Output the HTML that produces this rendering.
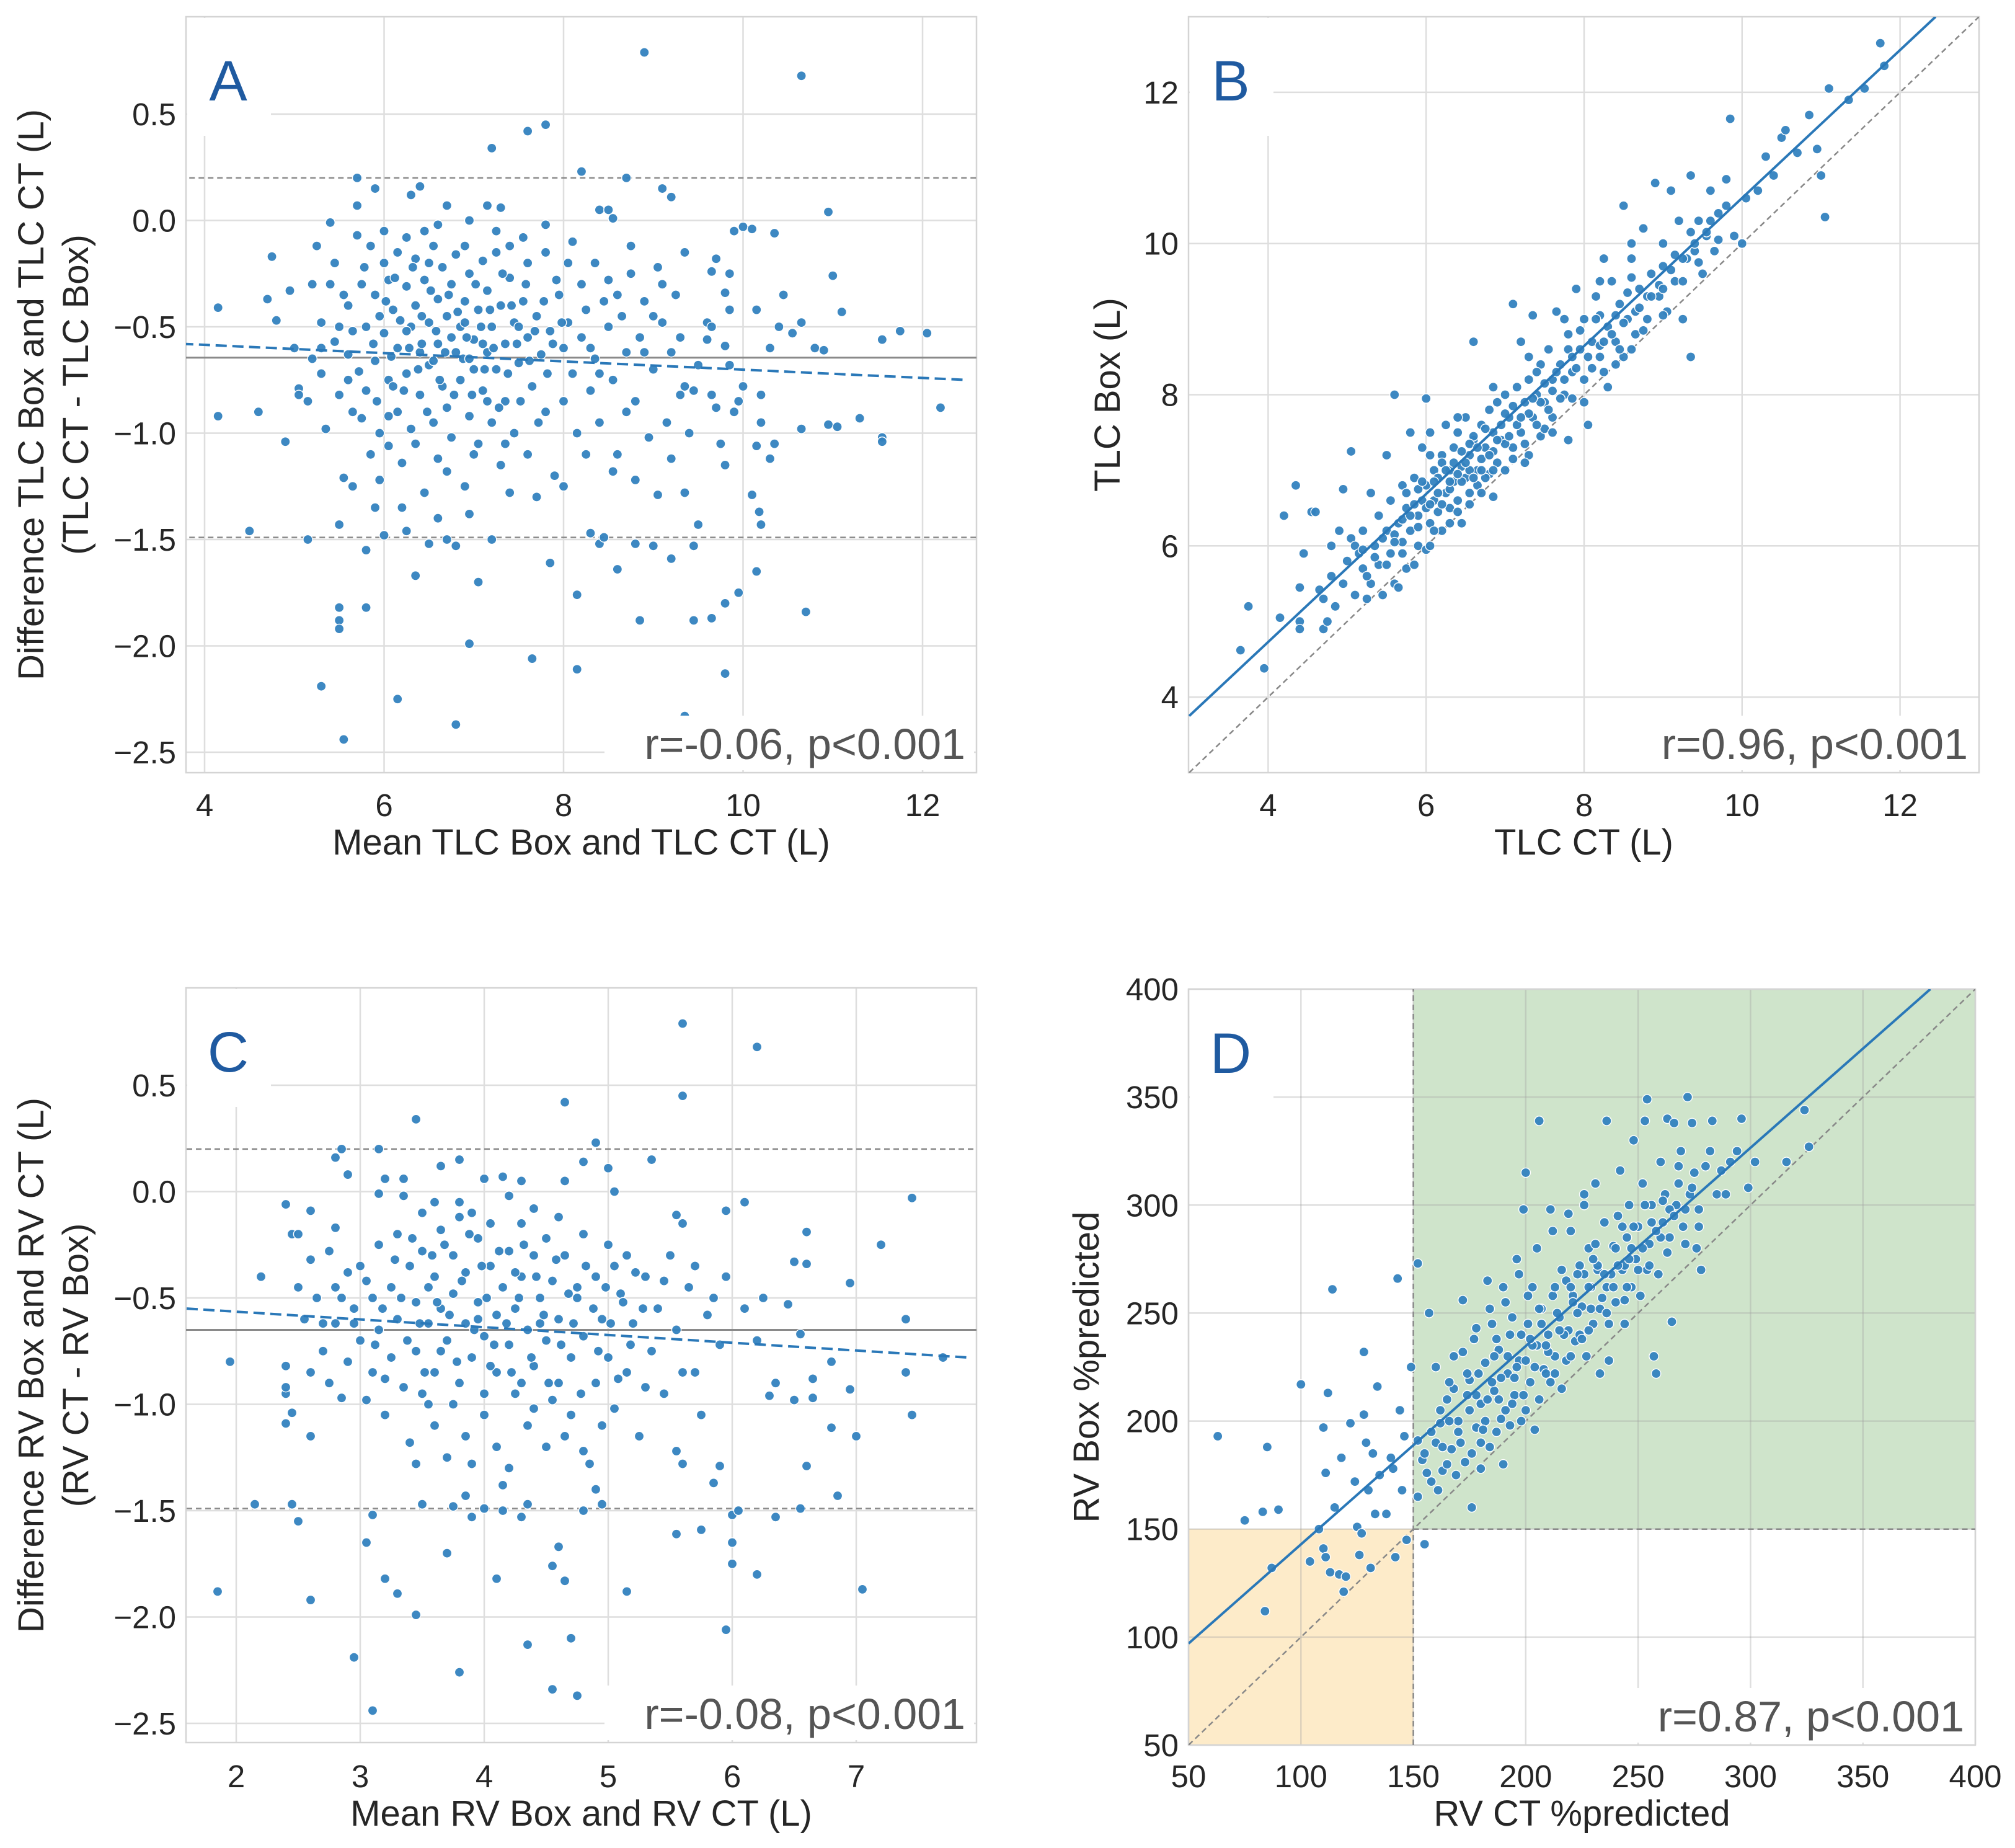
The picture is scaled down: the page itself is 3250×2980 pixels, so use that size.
<!DOCTYPE html>
<html><head><meta charset="utf-8">
<style>
html,body{margin:0;padding:0;background:#fff;}
svg{display:block;font-family:"Liberation Sans",sans-serif;}
</style></head>
<body>
<svg id="fig" width="3250" height="2980" viewBox="0 0 3250 2980" xmlns="http://www.w3.org/2000/svg"></svg>
<script>
// ---------- DATA ----------
const aXTicks=[4,6,8,10,12];
const aYTicks=[0.5,0.0,-0.5,-1.0,-1.5,-2.0,-2.5];
const aLoA=[0.2,-1.49];
const aMean=[-0.645];
const aReg=[[3.75,-0.58],[12.5,-0.75]];
const aPoints=[
[8.9,0.79],[10.65,0.68],[7.6,0.42],[7.8,0.45],[7.2,0.34],[8.2,0.23],[8.7,0.2],[5.7,0.2],[5.9,0.15],[6.3,0.12],[6.4,0.16],[9.1,0.15],[9.2,0.11],[10.95,0.04],[7.3,0.06],[7.15,0.07],[6.7,0.07],[5.7,0.07],[6.95,0.0],[8.4,0.05],[8.5,0.05],[8.55,0.01],[10.0,-0.03],[10.1,-0.04],[10.35,-0.06],[9.9,-0.05],[11.0,-0.26],[11.1,-0.43],[10.45,-0.35],[11.75,-0.52],[11.55,-0.56],[12.05,-0.53],[12.2,-0.88],[11.3,-0.93],[10.95,-0.96],[11.05,-0.97],[11.55,-1.02],[11.55,-1.04],[10.65,-0.98],[10.7,-1.84],[10.15,-1.65],[10.2,-1.43],[10.18,-1.37],[10.1,-1.29],[9.95,-1.75],[9.8,-1.8],[9.65,-1.87],[9.45,-1.88],[9.8,-2.13],[9.35,-2.33],[8.85,-1.88],[8.15,-1.76],[8.15,-2.11],[7.65,-2.06],[6.95,-1.99],[7.05,-1.7],[6.8,-2.37],[6.15,-2.25],[5.55,-2.44],[5.3,-2.19],[5.5,-1.82],[5.5,-1.88],[5.5,-1.92],[5.8,-1.82],[6.35,-1.67],[5.8,-1.55],[4.5,-1.46],[5.15,-1.5],[4.15,-0.92],[4.6,-0.9],[4.15,-0.41],[4.9,-1.04],[4.75,-0.17],[4.7,-0.37],[7.85,-1.61],[8.6,-1.64],[9.5,-1.43],[9.2,-1.59],[9.0,-1.53],[9.45,-1.53],[8.8,-1.52],[8.4,-1.52],[8.3,-1.47],[8.45,-1.49],[7.2,-1.5],[6.7,-1.5],[6.8,-1.53],[6.5,-1.52],[6.25,-1.46],[6.0,-1.48],[5.5,-1.43],[9.05,-1.29],[9.35,-1.28],[9.4,-1.0],[9.8,-1.15],[10.15,-1.06],[10.35,-1.05],[10.2,-0.95],[10.3,-1.12],[9.75,-1.05],[10.3,-0.6],[10.2,-0.82],[10.0,-0.78],[9.65,-0.82],[9.7,-0.88],[9.9,-0.9],[9.95,-0.85],[10.55,-0.53],[10.65,-0.48],[10.8,-0.6],[10.9,-0.61],[10.4,-0.5],[10.15,-0.42],[9.85,-0.42],[9.8,-0.34],[9.85,-0.25],[9.65,-0.24],[9.7,-0.18],[9.6,-0.48],[9.65,-0.5],[9.6,-0.56],[9.8,-0.59],[9.85,-0.68],[9.5,-0.68],[9.45,-0.8],[9.35,-0.78],
[4.8,-0.47],[4.95,-0.33],[5.0,-0.6],[5.05,-0.79],[5.05,-0.82],[5.2,-0.3],[5.25,-0.12],[5.3,-0.48],[5.3,-0.72],[5.35,-0.98],[5.4,-0.01],[5.45,-0.2],[5.45,-0.57],[5.5,-0.82],[5.55,-1.21],[5.6,-0.4],[5.6,-0.63],[5.65,-1.25],[5.7,-0.07],[5.75,-0.3],[5.75,-0.93],[5.8,-0.5],[5.8,-0.8],[5.85,-0.12],[5.9,-0.35],[5.9,-0.66],[5.95,-1.0],[5.95,-1.22],[6.0,-0.2],[6.0,-0.53],[6.05,-0.75],[6.05,-1.06],[6.1,-0.42],[6.15,-0.15],[6.15,-0.6],[6.15,-0.9],[6.2,-1.14],[6.25,-0.31],[6.25,-0.72],[6.3,-0.5],[6.3,-0.98],[6.35,-0.18],[6.35,-0.4],[6.4,-0.62],[6.4,-0.82],[6.45,-1.28],[6.45,-0.28],[6.5,-0.48],[6.5,-0.68],[6.55,-0.95],[6.55,-0.12],[6.6,-0.37],[6.6,-0.58],[6.6,-1.12],[6.65,-0.22],[6.65,-0.78],[6.7,-0.45],[6.7,-0.88],[6.75,-0.3],[6.75,-1.02],[6.8,-0.62],[6.8,-0.16],[6.85,-0.5],[6.85,-0.75],[6.9,-0.38],[6.9,-1.25],[6.95,-0.25],[6.95,-0.92],[7.0,-0.56],[7.0,-0.7],[7.05,-0.42],[7.05,-1.05],[7.1,-0.19],[7.1,-0.8],[7.15,-0.62],[7.15,-0.33],[7.2,-0.5],[7.2,-0.95],[7.25,-0.15],[7.25,-0.7],[7.3,-1.15],[7.3,-0.4],[7.35,-0.58],[7.35,-0.85],[7.4,-0.27],[7.45,-0.48],[7.45,-1.0],[7.5,-0.67],[7.55,-0.38],[7.6,-0.2],[7.6,-0.55],[7.6,-1.1],[7.65,-0.78],[7.7,-0.45],[7.75,-0.63],[7.8,-0.15],[7.8,-0.9],[7.85,-0.52],[7.9,-1.2],[7.95,-0.35],[8.0,-0.6],[8.0,-0.85],[8.05,-0.48],[8.1,-0.72],[8.15,-1.0],[8.2,-0.3],[8.2,-0.55],[8.25,-0.42],[8.3,-0.8],[8.35,-0.2],[8.35,-0.65],[8.4,-0.95],[8.45,-0.38],[8.5,-0.5],[8.5,-0.28],[8.55,-0.75],[8.6,-1.1],[8.65,-0.45],[8.7,-0.62],[8.75,-0.25],[8.8,-0.85],[8.85,-0.55],[8.9,-0.38],[9.0,-0.7],[9.05,-0.22],[9.1,-0.48],[9.15,-0.95],[9.2,-0.62],[9.25,-0.35],[9.3,-0.82],[7.4,-1.28],[6.2,-1.35],[6.6,-1.4],[8.0,-1.25],[8.8,-1.22],[5.3,-0.6],[6.05,-0.28],[6.45,-0.05],[7.55,-0.08],[8.1,-0.1],[6.9,-0.48],[6.25,-0.52],[7.1,-0.58],[6.55,-0.66],[5.95,-0.45],[6.75,-0.55],
[5.55,-0.35],[5.65,-0.52],[5.72,-0.71],[5.78,-0.22],[5.88,-0.58],[5.92,-0.85],[6.02,-0.38],[6.08,-0.64],[6.12,-0.27],[6.18,-0.47],[6.22,-0.8],[6.28,-0.6],[6.32,-0.22],[6.38,-0.7],[6.42,-0.45],[6.48,-0.9],[6.52,-0.33],[6.58,-0.52],[6.62,-0.75],[6.68,-0.62],[6.72,-0.35],[6.78,-0.82],[6.82,-0.43],[6.88,-0.65],[6.92,-0.55],[6.98,-0.82],[7.02,-0.3],[7.08,-0.5],[7.12,-0.7],[7.18,-0.42],[7.22,-0.6],[7.28,-0.88],[7.32,-0.25],[7.38,-0.72],[7.42,-0.4],[7.48,-0.58],[7.52,-0.85],[7.58,-0.3],[7.62,-0.66],[7.68,-0.52],[7.72,-0.95],[7.78,-0.38],[7.82,-0.72],[7.88,-0.58],[7.92,-0.28],[7.98,-0.48],[6.05,-0.92],[6.35,-1.05],[6.7,-1.18],[7.0,-1.1],[7.35,-1.05],[5.85,-1.1],[6.5,-0.2],[6.9,-0.12],[7.25,-0.05],[5.65,-0.9],[6.1,-0.78],[6.42,-0.58],[6.95,-0.65],[7.15,-0.85],[7.5,-0.5],[8.3,-0.6],[8.6,-0.35],[8.9,-0.62],[9.1,-0.3],[9.3,-0.55],[8.7,-0.9],[8.4,-0.72],[9.0,-0.45],[5.4,-0.3],[5.6,-0.75],[5.5,-0.5],[5.2,-0.65],[5.15,-0.85],[6.25,-0.08],[6.0,-0.05],[6.6,-0.02],[7.4,-0.12],[5.9,-1.35],[6.95,-1.38],[7.7,-1.3],[8.25,-1.1],[8.55,-1.18],[8.95,-1.02],[9.2,-1.12],[7.8,-0.02],[8.05,-0.2],[8.75,-0.12],[9.35,-0.15]
];
const bXTicks=[4,6,8,10,12];
const bYTicks=[4,6,8,10,12];
const bReg=[[3,3.75],[12.45,13]];
const bIdent=[[3,3],[13,13]];
const bPoints=[
[3.65,4.62],[3.75,5.2],[3.95,4.38],[4.15,5.05],[4.2,6.4],[4.35,6.8],[4.4,5.0],[4.4,4.9],[4.4,5.45],[4.45,5.9],[4.55,6.45],[4.6,6.45],[4.65,5.42],[4.7,5.3],[4.7,4.9],[4.75,5.0],[4.8,5.6],[4.8,6.0],[4.85,5.2],[4.9,6.2],[4.95,6.75],[4.95,5.5],[5.0,5.8],[5.05,6.1],[5.05,7.25],[5.1,5.35],[5.1,6.0],[5.15,5.9],[5.2,6.2],[5.2,5.7],[5.25,5.3],[5.3,6.7],[5.3,5.5],[5.35,6.0],[5.4,5.75],[5.4,6.4],[5.45,5.35],[5.5,6.2],[5.5,7.2],[5.55,5.9],[5.55,6.6],[5.6,5.5],[5.6,8.0],[5.65,6.3],[5.65,5.45],[5.7,6.8],[5.7,6.05],[5.75,5.7],[5.75,6.5],[5.8,6.2],[5.8,7.5],[5.85,5.75],[5.85,6.9],[5.9,6.4],[5.9,6.0],[5.95,6.6],[5.95,7.3],[6.0,5.95],[6.0,6.8],[6.0,7.95],[6.05,6.3],[6.05,7.5],[6.1,6.6],[6.1,7.0],[6.15,6.9],[6.15,6.45],[6.2,7.2],[6.2,6.2],[6.25,6.7],[6.25,7.6],[6.3,7.0],[6.3,6.5],[6.35,7.3],[6.35,6.85],[6.4,7.5],[6.4,6.6],[6.45,7.05],[6.45,6.3],[6.5,6.9],[6.5,7.7],[6.55,7.2],[6.55,6.55],[6.6,7.4],[6.6,8.7],[6.65,6.8],[6.65,7.0],[6.7,7.6],[6.7,6.7],[6.75,7.3],[6.8,7.8],[6.8,6.95],[6.85,7.5],[6.85,6.65],[6.9,7.1],[6.9,7.9],[6.95,7.4],[7.0,7.0],[7.0,8.0],[7.05,7.7],[7.1,7.3],[7.1,9.2],[7.15,8.1],[7.2,7.5],[7.2,8.7],[7.25,7.9],[7.3,7.2],[7.3,8.2],[7.35,7.7],[7.35,9.05],[7.4,8.0],[7.45,7.45],[7.45,8.4],[7.5,7.9],[7.55,8.6],[7.6,8.2],[7.6,7.7],[7.65,9.1],[7.7,8.4],[7.75,8.0],[7.8,8.8],[7.8,7.4],[7.85,8.3],[7.9,9.4],[7.95,8.6],[8.0,8.2],[8.0,9.0],[8.05,7.6],[8.1,8.7],[8.15,9.3],[8.2,8.5],[8.25,9.8],[8.3,8.9],[8.3,8.1],[8.35,9.5],[8.4,8.7],[8.45,9.2],[8.5,10.5],[8.5,8.5],[8.55,9.0],[8.6,9.8],[8.65,8.8],[8.7,9.4],[8.75,10.2],[8.8,9.0],[8.85,9.6],[8.9,10.8],[8.95,9.3],[9.0,10.0],[9.05,9.1],[9.1,10.7],[9.15,9.5],[9.2,10.3],[9.25,9.0],[9.3,9.8],[9.35,10.9],[9.35,8.5],[9.4,9.9],[9.45,10.3],[9.5,9.6],[9.55,10.1],[9.6,10.7],[9.65,9.9],[9.7,10.4],[9.8,10.85],[9.85,11.65],[9.9,10.1],[10.0,10.0],[10.05,10.6],[10.2,10.7],[10.3,11.15],[10.4,10.9],[10.5,11.4],[10.55,11.5],[10.7,11.2],[10.85,11.7],[10.95,11.25],[11.0,10.9],[11.05,10.35],[11.1,12.05],[11.35,11.9],[11.55,12.05],[11.75,12.65],[11.8,12.35],
[5.2,5.95],[5.45,6.1],[5.6,6.15],[5.7,6.35],[5.85,6.55],[6.0,6.5],[6.15,6.7],[6.3,6.75],[6.45,6.85],[6.55,7.0],[6.7,7.15],[6.85,7.25],[7.0,7.35],[7.15,7.6],[7.3,7.75],[7.45,7.9],[7.6,8.05],[7.75,8.2],[7.9,8.35],[8.05,8.5],[8.2,8.65],[8.35,8.8],[8.5,8.95],[8.65,9.1],[8.8,9.3],[8.95,9.45],[9.1,9.65],[9.25,9.8],[9.4,10.0],[9.55,10.15],[6.1,6.2],[6.4,6.45],[6.75,6.9],[7.1,7.15],[7.5,7.55],[7.85,7.95],[8.25,8.3],[8.6,8.6],[9.0,9.05],[5.9,6.75],[6.2,7.1],[6.6,7.45],[7.0,7.75],[7.4,8.3],[7.8,8.6],[8.2,9.05],[8.6,9.55],[9.0,9.7],
[5.25,5.6],[5.35,5.85],[5.5,5.75],[5.6,6.05],[5.7,5.9],[5.8,6.4],[5.9,6.25],[5.95,6.85],[6.05,6.55],[6.1,6.85],[6.2,6.55],[6.25,7.0],[6.3,6.85],[6.35,7.1],[6.4,6.95],[6.45,7.25],[6.5,7.1],[6.55,7.35],[6.6,6.9],[6.65,7.3],[6.7,7.0],[6.75,7.55],[6.8,7.2],[6.9,7.4],[6.95,7.6],[7.05,7.45],[7.1,7.85],[7.2,7.7],[7.25,7.35],[7.35,7.95],[7.4,7.6],[7.5,8.15],[7.55,7.8],[7.65,8.3],[7.7,7.95],[7.85,8.5],[7.95,8.85],[8.1,8.35],[8.15,9.0],[8.25,8.7],[8.4,9.05],[8.45,8.6],[8.55,9.35],[8.7,9.15],[8.75,8.85],[8.85,9.3],[9.0,9.4],[9.15,9.85],[9.25,9.5],[9.35,10.15],[9.45,9.75],[9.6,10.3],[9.7,10.05],[9.8,10.5],[6.05,6.0],[6.3,6.3],[6.55,6.7],[6.85,7.0],[7.25,7.1],[7.6,7.5],[8.0,7.9],[8.4,8.4],[5.75,6.7],[6.05,7.2],[6.4,7.7],[6.85,8.1],[7.3,8.5],[7.75,9.0],[8.2,9.5],[8.6,10.0]
];
const cXTicks=[2,3,4,5,6,7];
const cYTicks=[0.5,0.0,-0.5,-1.0,-1.5,-2.0,-2.5];
const cLoA=[0.2,-1.49];
const cMean=[-0.65];
const cReg=[[1.6,-0.55],[7.9,-0.78]];
const cPoints=[
[5.6,0.79],[6.2,0.68],[5.6,0.45],[4.65,0.42],[3.45,0.34],[4.9,0.23],[2.85,0.2],[3.15,0.2],[2.8,0.16],[5.35,0.15],[4.8,0.14],[3.8,0.15],[4.15,0.07],[3.65,0.12],[5.0,0.11],[2.9,0.08],[3.2,0.06],[3.35,0.06],[4.3,0.05],[4.0,0.06],[4.65,0.05],[5.05,0.0],[3.15,-0.01],[7.45,-0.03],[6.1,-0.05],[2.4,-0.06],[2.6,-0.09],[5.95,-0.09],[5.55,-0.11],[5.6,-0.15],[2.45,-0.2],[2.5,-0.2],[2.8,-0.17],[6.6,-0.19],[7.2,-0.25],[2.2,-0.4],[6.5,-0.33],[6.6,-0.34],[6.95,-0.43],[1.95,-0.8],[1.85,-1.88],[2.15,-1.47],[2.45,-1.47],[2.5,-1.55],[2.6,-1.92],[2.95,-2.19],[3.1,-2.44],[3.05,-1.65],[3.1,-1.52],[3.2,-1.82],[3.3,-1.89],[3.45,-1.99],[3.7,-1.7],[3.8,-2.26],[4.1,-1.82],[4.35,-2.13],[4.55,-2.34],[4.75,-2.37],[4.7,-2.1],[4.55,-1.76],[4.65,-1.83],[4.6,-1.67],[5.15,-1.88],[5.55,-1.61],[5.75,-1.59],[5.95,-2.06],[6.0,-1.75],[6.0,-1.65],[6.0,-1.52],[6.05,-1.5],[6.2,-1.8],[6.35,-1.53],[6.55,-1.49],[6.6,-1.29],[6.85,-1.43],[7.05,-1.87],[7.0,-1.15],[6.8,-1.11],[6.95,-0.93],[7.4,-0.85],[7.45,-1.05],[7.7,-0.78],[7.4,-0.6],[6.8,-0.8],[6.65,-0.88],[6.65,-0.97],[6.5,-0.98],[6.55,-0.67],[6.45,-0.53],[6.25,-0.5],[6.2,-0.7],[6.3,-0.96],[6.35,-0.9],[6.1,-0.55],[2.45,-1.04],[2.4,-1.09],[2.4,-0.95],[2.4,-0.92],[2.4,-0.82],[2.6,-1.15],[2.6,-0.85],[3.75,-1.48],[3.85,-1.43],[3.9,-1.53],[4.0,-1.49],[4.15,-1.5],[4.3,-1.53],[4.35,-1.47],[4.8,-1.5],[4.95,-1.47],[4.9,-1.4],[3.5,-1.47],[5.55,-1.22],[5.6,-1.28],[5.9,-1.29],[5.85,-1.37],
[2.5,-0.45],[2.55,-0.6],[2.6,-0.32],[2.65,-0.5],[2.7,-0.75],[2.75,-0.28],[2.75,-0.9],[2.8,-0.45],[2.8,-0.62],[2.85,-0.97],[2.9,-0.38],[2.9,-0.8],[2.95,-0.55],[3.0,-0.7],[3.0,-0.35],[3.05,-0.98],[3.1,-0.5],[3.1,-0.85],[3.15,-0.25],[3.15,-0.65],[3.2,-1.05],[3.25,-0.45],[3.25,-0.78],[3.3,-0.2],[3.3,-0.6],[3.35,-0.92],[3.4,-0.35],[3.4,-1.18],[3.45,-0.52],[3.45,-0.75],[3.5,-0.1],[3.5,-0.28],[3.55,-0.62],[3.55,-1.0],[3.6,-0.4],[3.6,-0.85],[3.65,-0.18],[3.65,-0.55],[3.7,-0.7],[3.7,-1.25],[3.75,-0.3],[3.75,-0.48],[3.8,-0.9],[3.8,-0.12],[3.85,-0.62],[3.85,-0.38],[3.9,-0.78],[3.9,-1.28],[3.95,-0.22],[3.95,-0.52],[4.0,-0.68],[4.0,-1.05],[4.05,-0.35],[4.05,-0.15],[4.1,-0.58],[4.1,-0.85],[4.15,-0.45],[4.15,-1.38],[4.2,-0.28],[4.2,-0.72],[4.25,-0.95],[4.25,-0.55],[4.3,-0.15],[4.3,-0.4],[4.35,-0.65],[4.35,-1.1],[4.4,-0.3],[4.4,-0.82],[4.45,-0.5],[4.5,-0.22],[4.5,-0.7],[4.5,-1.2],[4.55,-0.42],[4.6,-0.9],[4.6,-0.6],[4.65,-0.3],[4.7,-0.78],[4.7,-1.05],[4.75,-0.5],[4.8,-0.2],[4.8,-0.68],[4.85,-1.28],[4.9,-0.4],[4.9,-0.9],[4.95,-0.6],[5.0,-0.25],[5.0,-0.78],[5.05,-1.02],[5.1,-0.48],[5.15,-0.3],[5.15,-0.85],[5.2,-0.62],[5.25,-1.15],[5.3,-0.4],[5.35,-0.75],[5.4,-0.55],[5.45,-0.95],[5.5,-0.3],[5.55,-0.65],[5.65,-0.45],[5.7,-0.85],[5.75,-1.05],[5.8,-0.58],[5.9,-0.72],[5.95,-0.4],[3.8,-0.05],[4.2,-0.02],[3.35,-0.02],[3.95,-0.6],[4.45,-0.62],[3.65,-0.75],[4.25,-0.38],[4.75,-0.45],[3.55,-0.45],[4.05,-0.82],
[3.28,-0.32],[3.33,-0.5],[3.38,-0.7],[3.42,-0.22],[3.48,-0.62],[3.52,-0.85],[3.58,-0.3],[3.62,-0.52],[3.68,-0.25],[3.72,-0.58],[3.78,-0.8],[3.82,-0.42],[3.88,-0.2],[3.92,-0.65],[3.98,-0.35],[4.02,-0.5],[4.08,-0.72],[4.12,-0.28],[4.18,-0.62],[4.22,-0.85],[4.28,-0.5],[4.32,-0.25],[4.38,-0.78],[4.42,-0.4],[4.48,-0.58],[4.52,-0.9],[4.58,-0.32],[4.62,-0.72],[4.68,-0.48],[4.72,-0.62],[4.78,-0.95],[4.82,-0.35],[4.88,-0.55],[4.92,-0.75],[4.98,-0.45],[5.02,-0.62],[5.08,-0.88],[5.12,-0.52],[5.18,-0.72],[5.22,-0.38],[5.28,-0.55],[3.05,-0.42],[3.12,-0.72],[3.18,-0.55],[2.95,-0.62],[2.85,-0.5],[2.7,-0.62],[3.6,-1.1],[3.85,-1.15],[4.1,-1.2],[4.4,-1.02],[4.65,-1.15],[4.95,-1.1],[3.5,-0.95],[3.75,-1.0],[4.0,-0.95],[4.3,-0.9],[4.55,-0.98],[3.9,-0.1],[4.4,-0.08],[4.6,-0.12],[3.6,-0.05],[5.3,-0.92],[5.45,-0.42],[5.6,-0.85],[5.7,-0.35],[5.85,-0.5],[5.05,-0.35],[3.2,-0.88],[3.45,-1.28],[4.2,-1.3],[4.8,-1.22]
];
const dXTicks=[50,100,150,200,250,300,350,400];
const dYTicks=[400,350,300,250,200,150,100,50];
const dThresh=[150];
const dReg=[[50,97],[380,400]];
const dIdent=[[50,50],[400,400]];
const dPoints=[
[63,193],[75,154],[83,158],[84,112],[85,188],[87,132],[90,159],[100,217],[104,135],[108,150],[110,197],[110,141],[111,137],[111,176],[112,213],[113,130],[114,261],[115,160],[117,129],[118,183],[119,121],[120,128],[122,199],[124,172],[125,151],[126,138],[127,148],[128,232],[128,203],[129,190],[130,168],[131,132],[132,185],[133,157],[134,216],[135,175],[138,157],[140,183],[141,178],[142,137],[143,266],[144,205],[145,168],[146,193],[147,145],[149,225],[152,273],[152,191],[154,182],[155,143],[157,250],[158,172],[160,225],[162,199],[163,177],[165,210],[167,187],[168,230],[170,200],[172,256],[173,181],[175,219],[176,160],[177,238],[178,197],[180,208],[182,227],[183,265],[184,188],[185,245],[186,214],[188,233],[189,201],[190,180],[191,255],[192,222],[193,240],[195,212],[196,275],[197,228],[198,200],[199,298],[200,315],[201,245],[202,218],[203,262],[204,196],[205,235],[206,339],[207,252],[208,224],[210,240],[211,298],[212,258],[213,230],[215,248],[216,215],[218,265],[219,242],[220,288],[221,258],[222,237],[224,272],[225,253],[226,305],[227,230],[228,280],[229,262],[230,245],[231,310],[232,270],[233,222],[234,257],[235,292],[236,339],[237,228],[238,268],[239,281],[240,255],[241,295],[242,316],[243,270],[244,245],[245,285],[246,300],[247,262],[248,330],[249,275],[250,290],[251,258],[252,310],[253,339],[254,349],[255,282],[256,300],[257,230],[258,222],[259,268],[260,320],[261,292],[262,305],[263,340],[264,285],[265,246],[266,338],[267,300],[268,310],[269,325],[270,290],[271,282],[272,350],[273,305],[274,338],[275,315],[276,280],[277,298],[278,270],[280,318],[282,325],[283,339],[285,305],[287,316],[289,305],[291,320],[294,325],[296,340],[299,308],[302,320],[316,320],[324,344],[326,327],
[160,190],[165,180],[170,195],[175,205],[178,212],[182,200],[185,218],[188,210],[192,230],[195,220],[198,240],[200,228],[203,235],[207,245],[210,232],[214,250],[217,240],[220,262],[223,250],[226,268],[229,252],[232,272],[236,262],[240,280],[244,272],[248,290],[252,280],[256,292],[260,285],[264,298],[155,185],[162,205],[168,215],[174,222],[180,190],[186,230],[194,208],[201,258],[209,222],[216,270],[224,240],[231,282],[239,262],[246,275],[254,270],
[152,165],[156,176],[158,195],[161,168],[163,188],[166,200],[169,175],[171,190],[174,212],[176,185],[179,222],[181,196],[183,210],[187,238],[189,220],[191,205],[194,248],[196,225],[199,212],[202,238],[204,225],[206,252],[209,235],[211,218],[213,262],[215,242],[218,228],[221,255],[223,268],[225,238],[228,262],[230,275],[233,252],[235,268],[237,245],[241,272],[243,290],[245,262],[247,280],[250,270],[253,300],[255,272],[258,288],[261,302],[263,278],[266,295],[268,318],[271,298],[274,308],[277,290],[166,218],[172,232],[178,243],[184,252],[190,262],[197,268],[205,280],[212,288],[219,296],[226,300],[180,178],[187,195],[193,198],[200,205],[206,210],[213,222],[220,230],[228,242],[236,250],[244,256]
];

// ---------- DRAW ----------
const NS="http://www.w3.org/2000/svg";
const svg=document.getElementById('fig');
function mk(tag,attrs,parent){const e=document.createElementNS(NS,tag);for(const k in attrs)e.setAttribute(k,attrs[k]);(parent||svg).appendChild(e);return e;}
function lin(d0,d1,r0,r1){return v=>r0+(v-d0)*(r1-r0)/(d1-d0);}

function panel(cfg){
  const g=mk('g',{});
  
  
  const {L,R,T,B}=cfg.box;
  const sx=lin(cfg.xd[0],cfg.xd[1],cfg.xr[0],cfg.xr[1]);
  const sy=lin(cfg.yd[0],cfg.yd[1],cfg.yr[0],cfg.yr[1]);
  const clipId=cfg.name+'-clip';
  const cp=mk('clipPath',{id:clipId},g);mk('rect',{x:L,y:T,width:R-L,height:B-T},cp);
  if(cfg.shade){cfg.shade(g,sx,sy);}
  cfg.xt.forEach(v=>{const l=mk('line',{x1:sx(v),x2:sx(v),y1:T,y2:B,stroke:cfg.gridCol||'#dedede','stroke-width':2.5},g);
    });
  cfg.yt.forEach(v=>{const l=mk('line',{x1:L,x2:R,y1:sy(v),y2:sy(v),stroke:cfg.gridCol||'#dedede','stroke-width':2.5},g);
    });
  const frame=mk('rect',{x:L,y:T,width:R-L,height:B-T,fill:'none',stroke:'#d4d4d4','stroke-width':2.5},g);
  
  const lg=mk('g',{'clip-path':`url(#${clipId})`},g);
  if(cfg.extra)cfg.extra(lg,sx,sy);
  const pg=mk('g',{'clip-path':`url(#${clipId})`},g);
  
  cfg.pts.forEach(p=>{const c=mk('circle',{cx:sx(p[0]),cy:sy(p[1]),r:7.6,fill:'#3382bf',stroke:'#ffffff','stroke-width':1.4,'fill-opacity':0.95},pg);
    });
  if(cfg.lines)cfg.lines(mk('g',{'clip-path':`url(#${clipId})`},g),sx,sy);
  cfg.xt.forEach(v=>{const t=mk('text',{x:sx(v),y:cfg.xlabY,'font-size':51,fill:'#262626','text-anchor':'middle'},g);t.textContent=String(v);
    });
  cfg.yt.forEach(v=>{const s=cfg.yfmt?cfg.yfmt(v):String(v);const t=mk('text',{x:L-16,y:sy(v)+18,'font-size':51,fill:'#262626','text-anchor':'end'},g);t.textContent=s;
    });
  const lb=mk('rect',{x:L+2,y:T+2,width:135,height:190,fill:'#fff'},g);
  
  const lt=mk('text',{x:L+68,y:T+135,'font-size':92,fill:'#1f5aa0','text-anchor':'middle'},g);lt.textContent=cfg.letter;
  
  const ab=mk('rect',{x:R-600,y:B-92,width:596,height:88,fill:'#fff'},g);
  
  const at=mk('text',{x:R-18,y:B-22,'font-size':70,fill:'#555','text-anchor':'end'},g);at.textContent=cfg.anno;
  
  const xt=mk('text',{x:(L+R)/2,y:cfg.xTitleY,'font-size':58,fill:'#262626','text-anchor':'middle'},g);xt.textContent=cfg.xTitle;
  
  cfg.yTitle.forEach((s,i)=>{const x=cfg.yTitleX[i];const cy=(T+B)/2;
    const t=mk('text',{x:x,y:cy,'font-size':58,fill:'#262626','text-anchor':'middle',transform:`rotate(-90 ${x} ${cy})`},g);t.textContent=s;
    });
}
const fmtDiff=v=>(v<0?'\u2212':'')+Math.abs(v).toFixed(1);
function hline(g,sx,sy,xd,v,col,dash,w,name){const l=mk('line',{x1:sx(xd[0]),x2:sx(xd[1]),y1:sy(v),y2:sy(v),stroke:col,'stroke-width':w,'stroke-dasharray':dash},g);}
function seg(g,sx,sy,pts,col,dash,w,name){const l=mk('line',{x1:sx(pts[0][0]),y1:sy(pts[0][1]),x2:sx(pts[1][0]),y2:sy(pts[1][1]),stroke:col,'stroke-width':w,'stroke-dasharray':dash},g);}

panel({name:'panel-a',box:{L:300,R:1575,T:27,B:1246},xd:[4,12],xr:[330,1488],yd:[0.5,-2.5],yr:[184,1213],
  xt:aXTicks,yt:aYTicks,yfmt:fmtDiff,pts:aPoints,letter:'A',anno:'r=-0.06, p<0.001',xlabY:1316,xTitleY:1378,
  xTitle:'Mean TLC Box and TLC CT (L)',yTitle:['Difference TLC Box and TLC CT (L)','(TLC CT - TLC Box)'],yTitleX:[70,142],
  extra:(g,sx,sy)=>{aLoA.forEach(v=>hline(g,sx,sy,[3,13],v,'#8a8a8a','9 6',2.5,'limit-of-agreement'));
    aMean.forEach(v=>hline(g,sx,sy,[3,13],v,'#8a8a8a','',3,'mean-difference-line'));},
  lines:(g,sx,sy)=>seg(g,sx,sy,aReg,'#2a78b8','18 9',4,'regression-line')});

panel({name:'panel-b',box:{L:1917,R:3192,T:27,B:1246},xd:[3,13],xr:[1918,3192],yd:[3,13],yr:[1246,27],
  xt:bXTicks,yt:bYTicks,pts:bPoints,letter:'B',anno:'r=0.96, p<0.001',xlabY:1316,xTitleY:1378,
  xTitle:'TLC CT (L)',yTitle:['TLC Box (L)'],yTitleX:[1806],
  extra:(g,sx,sy)=>seg(g,sx,sy,bIdent,'#888','9 6',2.5,'identity-line'),
  lines:(g,sx,sy)=>seg(g,sx,sy,bReg,'#2a78b8','',4,'regression-line')});

panel({name:'panel-c',box:{L:300,R:1575,T:1593,B:2810},xd:[2,7],xr:[381,1381],yd:[0.5,-2.5],yr:[1750,2779],
  xt:cXTicks,yt:cYTicks,yfmt:fmtDiff,pts:cPoints,letter:'C',anno:'r=-0.08, p<0.001',xlabY:2882,xTitleY:2944,
  xTitle:'Mean RV Box and RV CT (L)',yTitle:['Difference RV Box and RV CT (L)','(RV CT - RV Box)'],yTitleX:[70,142],
  extra:(g,sx,sy)=>{cLoA.forEach(v=>hline(g,sx,sy,[1,8],v,'#8a8a8a','9 6',2.5,'limit-of-agreement'));
    cMean.forEach(v=>hline(g,sx,sy,[1,8],v,'#8a8a8a','',3,'mean-difference-line'));},
  lines:(g,sx,sy)=>seg(g,sx,sy,cReg,'#2a78b8','18 9',4,'regression-line')});

panel({name:'panel-d',box:{L:1917,R:3186,T:1595,B:2814},xd:[50,400],xr:[1917,3186],yd:[50,400],yr:[2814,1595],
  xt:dXTicks,yt:dYTicks,pts:dPoints,letter:'D',anno:'r=0.87, p<0.001',xlabY:2882,xTitleY:2944,
  xTitle:'RV CT %predicted',yTitle:['RV Box %predicted'],yTitleX:[1772],gridCol:'rgba(160,160,160,0.35)',
  shade:(g,sx,sy)=>{const t=dThresh[0];
    const gr=mk('rect',{x:sx(t),y:sy(400),width:sx(400)-sx(t),height:sy(t)-sy(400),fill:'#cfe4cb'},g);
    
    const og=mk('rect',{x:sx(50),y:sy(t),width:sx(t)-sx(50),height:sy(50)-sy(t),fill:'#fdebc9'},g);
    },
  extra:(g,sx,sy)=>{seg(g,sx,sy,dIdent,'#888','9 6',2.5,'identity-line');
    const t=dThresh[0];
    seg(g,sx,sy,[[t,50],[t,400]],'#8a8a8a','9 6',2.5,'threshold-vertical');
    seg(g,sx,sy,[[t,t],[400,t]],'#8a8a8a','9 6',2.5,'threshold-horizontal');},
  lines:(g,sx,sy)=>seg(g,sx,sy,dReg,'#2a78b8','',4,'regression-line')});
</script>
</body></html>
